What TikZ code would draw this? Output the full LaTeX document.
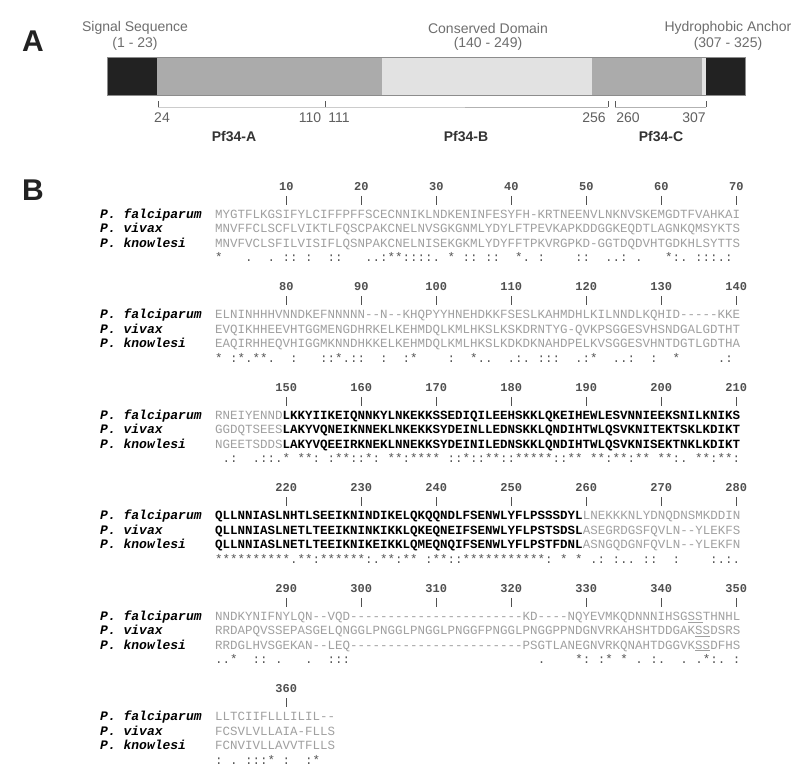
\documentclass[tikz,border=0pt]{standalone}
\usepackage{fontspec}
\setmainfont{Liberation Sans}
\setmonofont{Liberation Mono}
\definecolor{seqgray}{HTML}{A0A0A0}
\definecolor{consgray}{HTML}{555555}
\definecolor{numgray}{HTML}{505050}
\definecolor{lblgray}{HTML}{6E6E6E}
\definecolor{posgray}{HTML}{606060}
\definecolor{fraggray}{HTML}{333333}
\definecolor{bardark}{HTML}{222222}
\definecolor{barmid}{HTML}{ABABAB}
\definecolor{barlight}{HTML}{E2E2E2}
\newcommand\B[1]{{\bfseries\color{black}#1}}
\tikzset{
 lbl/.style={font=\fontsize{14}{16}\selectfont, text=lblgray, inner sep=0},
 posn/.style={font=\fontsize{14}{16}\selectfont, text=posgray, inner sep=0},
 frag/.style={font=\bfseries\fontsize{14}{16}\selectfont, text=fraggray, inner sep=0},
 big/.style={font=\bfseries\fontsize{30}{32}\selectfont, text=bardark, inner sep=0},
 seq/.style={font=\ttfamily\fontsize{12.5}{14}\selectfont, text=seqgray, anchor=base west, inner sep=0},
 cons/.style={seq, text=consgray},
 spc/.style={font=\ttfamily\bfseries\itshape\fontsize{13}{14}\selectfont, text=black, anchor=base west, inner sep=0},
 num/.style={font=\ttfamily\bfseries\fontsize{12}{14}\selectfont, text=numgray, anchor=base, inner sep=0},
 tk/.style={draw=numgray, line width=0.8pt},
 brk/.style={draw=black!30, line width=0.7pt},
 brktick/.style={draw=black!65, line width=0.8pt},
}
\newcommand\blk[6]{%
 \pgfmathsetmacro\by{186+100.5*#1}
 \foreach \j in {1,...,#2}{
  \pgfmathsetmacro\tx{286.25+75*(\j-1)}
  \pgfmathtruncatemacro\lab{70*#1+10*\j}
  \node[num] (n#1x\j) at (\tx,\by+4) {\lab};
  \draw[tk] (\tx,\by+14.35-4.5) -- (\tx,\by+14.35+4.5);
 }
 \node[spc] (pf#1) at (100,\by+28.7+3.75) {P. falciparum};
 \node[spc] (pv#1) at (100,\by+43.05+3.75) {P. vivax};
 \node[spc] (pk#1) at (100,\by+57.4+3.75) {P. knowlesi};
 \node[seq] (sf#1) at (215,\by+28.7+3.75) {#3};
 \node[seq] (sv#1) at (215,\by+43.05+3.75) {#4};
 \node[seq] (sk#1) at (215,\by+57.4+3.75) {#5};
 \node[cons] (sc#1) at (215,\by+71.75+3.75) {#6};
}
\frenchspacing
\begin{document}
\begin{tikzpicture}[x=1pt,y=-1pt]
\useasboundingbox (0,0) rectangle (800,768);
\fill[white] (0,0) rectangle (800,768);
% ---------- Part A ----------
\node[big] (labA) at (33,41) {A};
\node[lbl] (sig) at (135,28) {Signal Sequence};
\node[lbl] (sigr) at (135,44) {(1 - 23)};
\node[lbl] (cons) at (488,28) {Conserved Domain};
\node[lbl] (consr) at (488,44) {(140 - 249)};
\node[lbl] (hyd) at (728,28) {Hydrophobic Anchor};
\node[lbl] (hydr) at (728,44) {(307 - 325)};
\fill[bardark] (107,57) rectangle (157,95);
\fill[barmid] (157,57) rectangle (382,95);
\fill[barlight] (382,57) rectangle (592,95);
\fill[barmid] (592,57) rectangle (702,95);
\fill[barlight] (702,57) rectangle (706,95);
\fill[bardark] (706,57) rectangle (745,95);
\draw[black!45, line width=0.6pt] (107,57) rectangle (745,95);
% brackets
\coordinate (b24) at (158,107);
\coordinate (b110) at (325,107);
\coordinate (b256) at (608,107);
\coordinate (b260) at (615,107);
\coordinate (b307) at (706,107);
\draw[brk] (b24) -- (b110) -- (b256);
\draw[brk] (b260) -- (b307);
\foreach \c in {b24,b110,b256,b260,b307}{\draw[brktick] (\c) -- ++(0,-6);}
\node[posn] (p24) at (162,118) {24};
\node[posn] (p110) at (310,118) {110};
\node[posn] (p111) at (339,118) {111};
\node[posn] (p256) at (594,118) {256};
\node[posn] (p260) at (628,118) {260};
\node[posn] (p307) at (694,118) {307};
\node[frag] (fa) at (234,137) {Pf34-A};
\node[frag] (fb) at (466,137) {Pf34-B};
\node[frag] (fc) at (661,137) {Pf34-C};
% ---------- Part B ----------
\node[big] (labB) at (33,190) {B};
\blk{0}{7}{MYGTFLKGSIFYLCIFFPFFSCECNNIKLNDKENINFESYFH-KRTNEENVLNKNVSKEMGDTFVAHKAI}
 {MNVFFCLSCFLVIKTLFQSCPAKCNELNVSGKGNMLYDYLFTPEVKAPKDDGGKEQDTLAGNKQMSYKTS}
 {MNVFVCLSFILVISIFLQSNPAKCNELNISEKGKMLYDYFFTPKVRGPKD-GGTDQDVHTGDKHLSYTTS}
 {*~~~.~~.~::~:~~::~~~..:**::::.~*~::~::~~*.~:~~~~::~~..:~.~~~*:.~:::.:}
\blk{1}{7}{ELNINHHHVNNDKEFNNNNN--N--KHQPYYHNEHDKKFSESLKAHMDHLKILNNDLKQHID-----KKE}
 {EVQIKHHEEVHTGGMENGDHRKELKEHMDQLKMLHKSLKSKDRNTYG-QVKPSGGESVHSNDGALGDTHT}
 {EAQIRHHEQVHIGGMKNNDHKKELKEHMDQLKMLHKSLKDKDKNAHDPELKVSGGESVHNTDGTLGDTHA}
 {*~:*.**.~~:~~~::*.::~~:~~:*~~~~:~~*..~~.:.~:::~~.:*~~..:~~:~~*~~~~~.:}
\blk{2}{7}{RNEIYENND\B{LKKYIIKEIQNNKYLNKEKKSSEDIQILEEHSKKLQKEIHEWLESVNNIEEKSNILKNIKS}}
 {GGDQTSEES\B{LAKYVQNEIKNNEKLNKEKKSYDEINLLEDNSKKLQNDIHTWLQSVKNITEKTSKLKDIKT}}
 {NGEETSDDS\B{LAKYVQEEIRKNEKLNNEKKSYDEINILEDNSKKLQNDIHTWLQSVKNISEKTNKLKDIKT}}
 {~.:~~.::.*~**:~:**::*:~**:****~::*::**::*****::**~**:**:**~**:.~**:**:}
\blk{3}{7}{\B{QLLNNIASLNHTLSEEIKNINDIKELQKQQNDLFSENWLYFLPSSSDYL}LNEKKKNLYDNQDNSMKDDIN}
 {\B{QLLNNIASLNETLTEEIKNINKIKKLQKEQNEIFSENWLYFLPSTSDSL}ASEGRDGSFQVLN--YLEKFS}
 {\B{QLLNNIASLNETLTEEIKNIKEIKKLQMEQNQIFSENWLYFLPSTFDNL}ASNGQDGNFQVLN--YLEKFN}
 {**********.**:******:.**:**~:**::***********:~*~*~.:~:..~::~~:~~~~:.:.}
\blk{4}{7}{NNDKYNIFNYLQN--VQD-----------------------KD----NQYEVMKQDNNNIHSG\underline{SS}THNHL}
 {RRDAPQVSSEPASGELQNGGLPNGGLPNGGLPNGGFPNGGLPNGGPPNDGNVRKAHSHTDDGAK\underline{SS}DSRS}
 {RRDGLHVSGEKAN--LEQ-----------------------PSGTLANEGNVRKQNAHTDGGVK\underline{SS}DFHS}
 {..*~~::~.~~~.~~:::~~~~~~~~~~~~~~~~~~~~~~~~~.~~~~*:~:*~*~.~:.~~.~.*:.~:}
\blk{5}{1}{LLTCIIFLLLILIL--}
 {FCSVLVLLAIA-FLLS}
 {FCNVIVLLAVVTFLLS}
 {:~.~:::*~:~~:*}
\end{tikzpicture}
\end{document}
